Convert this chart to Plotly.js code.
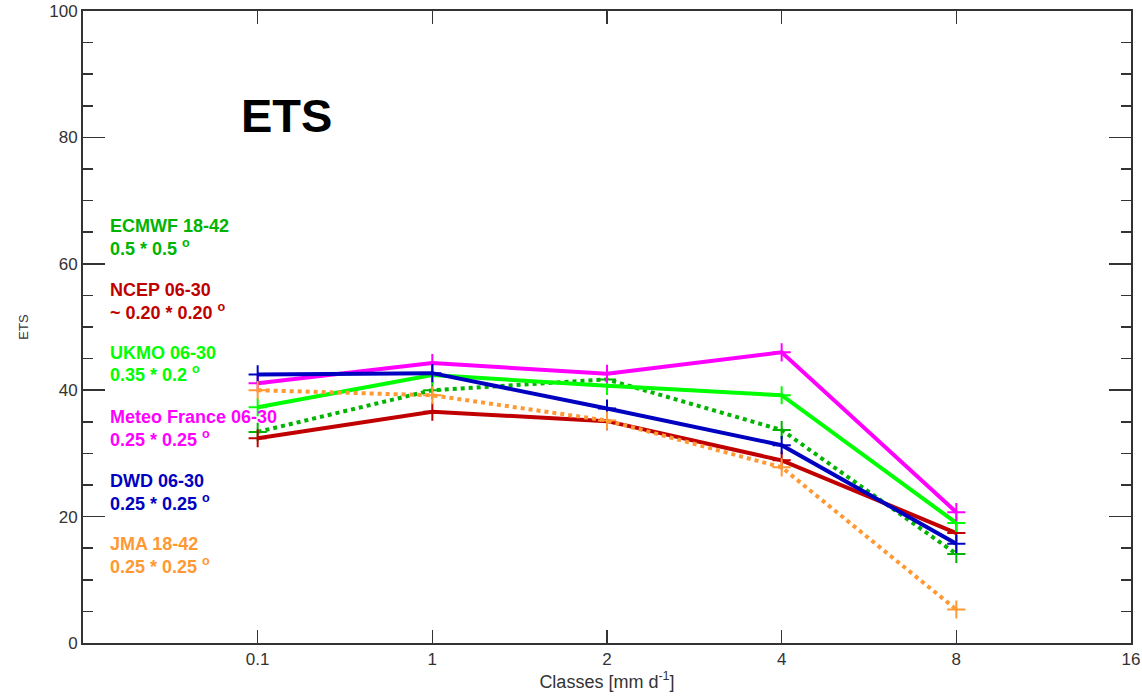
<!DOCTYPE html>
<html>
<head>
<meta charset="utf-8">
<script src="https://cdn.plot.ly/plotly-3.0.1.min.js"></script>
<style>html,body{margin:0;padding:0;background:#fff;}#chart{width:1142px;height:696px;}</style>
</head>
<body>
<div id="chart"></div>
<script>
// Categories (precipitation classes, mm/day)
const classes = ['0.1', '1', '2', '4', '8'];
const axisCategories = ['0.1', '1', '2', '4', '8', '16'];

// ETS values per model
const ecmwf  = [33.4, 40.0, 41.7, 33.7, 14.1];
const ncep   = [32.4, 36.6, 35.1, 28.9, 17.4];
const ukmo   = [37.3, 42.4, 40.7, 39.2, 19.0];
const meteo  = [41.1, 44.3, 42.6, 46.0, 20.7];
const dwd    = [42.5, 42.7, 37.1, 31.3, 15.7];
const jma    = [40.0, 39.2, 35.2, 27.8, 5.3];

const names = ['ECMWF 18-42', 'NCEP 06-30', 'UKMO 06-30', 'Meteo France 06-30', 'DWD 06-30', 'JMA 18-42'];
const grids = ['0.5 * 0.5 <sup>o</sup>', '~ 0.20 * 0.20 <sup>o</sup>', '0.35 * 0.2 <sup>o</sup>', '0.25 * 0.25 <sup>o</sup>', '0.25 * 0.25 <sup>o</sup>', '0.25 * 0.25 <sup>o</sup>'];
const colors = ['#00b400', '#c00000', '#00ff00', '#ff00ff', '#0000c0', '#ff9933'];
const dashes = ['dot', 'solid', 'solid', 'solid', 'solid', 'dot'];
const series = [ecmwf, ncep, ukmo, meteo, dwd, jma];

const traces = series.map((vals, i) => ({
  x: classes,
  y: vals,
  type: 'scatter',
  mode: 'lines+markers',
  name: names[i],
  line: {color: colors[i], width: 4, dash: dashes[i]},
  marker: {symbol: 'cross-thin-open', size: 13, color: colors[i], line: {color: colors[i], width: 2}},
  showlegend: false
}));

const legendY = [226, 290, 353, 417, 481, 544];
const legendFont = (c) => ({family: 'Liberation Sans, Arial, sans-serif', size: 18, color: c, weight: 'bold'});
const annotations = [];
names.forEach((n, i) => {
  annotations.push({
    xref: 'paper', yref: 'paper', xanchor: 'left', yanchor: 'middle',
    x: (108 - 83) / (1131 - 83), y: 1 - (legendY[i] - 11) / (643 - 11),
    text: n, showarrow: false,
    font: legendFont(colors[i])
  });
  annotations.push({
    xref: 'paper', yref: 'paper', xanchor: 'left', yanchor: 'middle',
    x: (108 - 83) / (1131 - 83), y: 1 - (legendY[i] + 21 - 11) / (643 - 11),
    text: grids[i], showarrow: false,
    font: legendFont(colors[i])
  });
});
annotations.push({
  xref: 'paper', yref: 'paper', xanchor: 'center', yanchor: 'middle',
  x: (286 - 83) / (1131 - 83), y: 1 - (115 - 11) / (643 - 11),
  text: '<b>ETS</b>', showarrow: false,
  font: {family: 'Liberation Sans, Arial, sans-serif', size: 47, color: '#000'}
});

const axisFont = {family: 'Liberation Sans, Arial, sans-serif', size: 17, color: '#333'};

const layout = {
  width: 1142, height: 696,
  margin: {l: 83, r: 11, t: 11, b: 53},
  paper_bgcolor: '#fff', plot_bgcolor: '#fff',
  xaxis: {
    type: 'category',
    categoryorder: 'array',
    categoryarray: axisCategories,
    range: [-1, 5],
    tickvals: axisCategories,
    ticktext: axisCategories,
    ticks: 'inside', ticklen: 13, tickwidth: 1.5, tickcolor: '#333',
    showline: true, linecolor: '#333', linewidth: 2, mirror: 'ticks',
    showgrid: false, zeroline: false,
    tickfont: axisFont,
    title: {text: 'Classes [mm d<sup>-1</sup>]', font: {family: 'Liberation Sans, Arial, sans-serif', size: 18, color: '#333'}, standoff: 2}
  },
  yaxis: {
    range: [0, 100], dtick: 20, tick0: 0,
    ticks: 'inside', ticklen: 22, tickwidth: 1.5, tickcolor: '#333',
    minor: {dtick: 5, ticks: 'inside', ticklen: 10, tickwidth: 1.5, tickcolor: '#333', showgrid: false},
    showline: true, linecolor: '#333', linewidth: 2, mirror: 'ticks',
    showgrid: false, zeroline: false,
    tickfont: axisFont,
    title: {text: 'ETS', font: {family: 'Liberation Sans, Arial, sans-serif', size: 13, color: '#333'}, standoff: 18}
  },
  annotations: annotations
};

Plotly.newPlot('chart', traces, layout, {displayModeBar: false, staticPlot: true});
</script>
</body>
</html>
